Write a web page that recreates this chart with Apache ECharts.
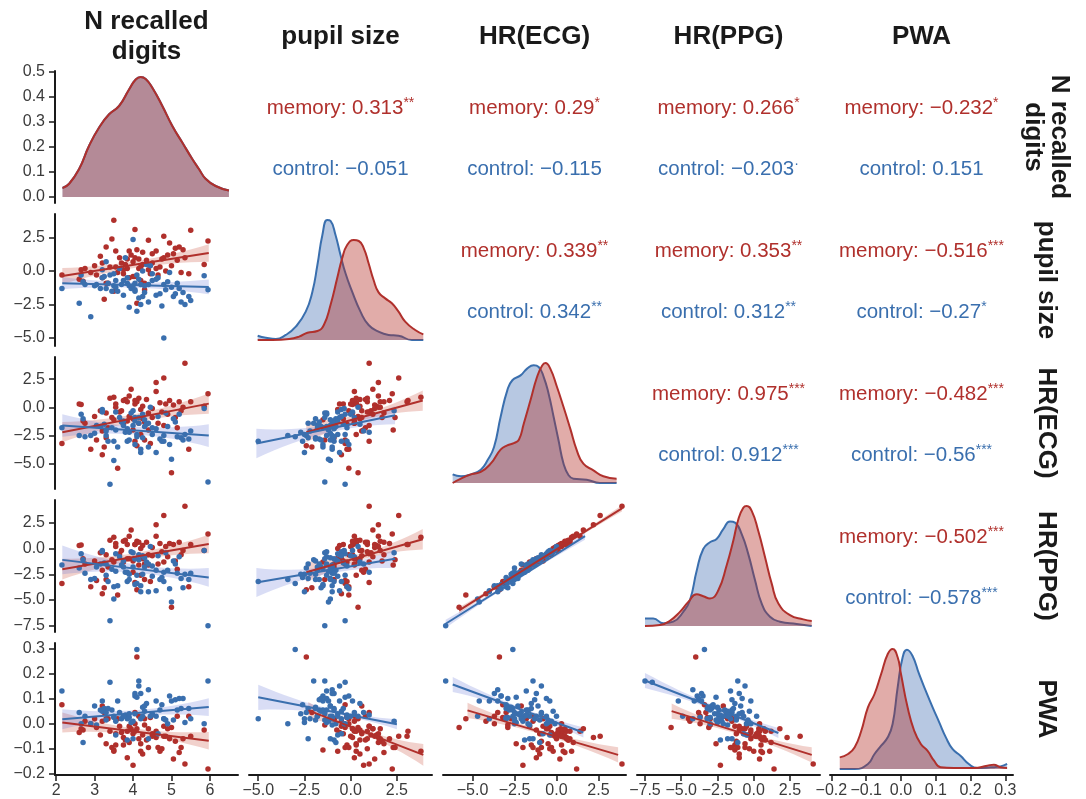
<!DOCTYPE html>
<html><head><meta charset="utf-8">
<script src="https://cdn.jsdelivr.net/npm/echarts@6/dist/echarts.min.js"></script>
<style>html,body{margin:0;padding:0;background:#fff}#c{width:1086px;height:799px}</style>
</head><body><div id="c"></div><script>
// ---------------- DATA ----------------
const varNames = ['N recalled\ndigits', 'pupil size', 'HR(ECG)', 'HR(PPG)', 'PWA'];

// per-subject values (same subjects in both conditions; N recalled digits shared)
const digits   = [2.15,2.6,2.65,2.7,2.75,2.9,3.0,3.05,3.15,3.2,3.2,3.25,3.3,3.35,3.4,3.45,3.5,3.5,3.55,3.6,3.65,3.7,3.75,3.8,3.85,3.85,3.9,3.95,4.0,4.0,4.05,4.05,4.1,4.1,4.15,4.15,4.2,4.2,4.25,4.25,4.3,4.35,4.4,4.4,4.45,4.5,4.6,4.65,4.7,4.8,4.8,4.85,4.9,4.95,5.0,5.05,5.1,5.15,5.2,5.25,5.3,5.35,5.45,5.5,5.85,5.95,3.55,4.3,4.5,3.9,4.6,4.05,3.3,4.75,3.75];
const memPupil = [-0.3,-0.6,0.1,-0.75,0.2,-0.1,0.4,-0.3,1.1,0.6,-0.5,-2.1,1.8,-0.9,0.3,2.4,3.8,-1.5,0.3,-0.1,1.0,0.6,-0.2,0.5,0.2,0.9,-0.5,1.2,0.7,-0.4,3.1,1.0,-2.4,1.6,0.2,0.9,0.3,-0.7,0.5,1.4,-1.4,0.8,2.3,0.1,-0.2,0.6,1.5,-0.3,0.3,2.6,1.0,0.0,1.2,2.1,0.4,1.3,1.7,0.8,1.8,-0.1,1.6,1.0,-0.2,3.05,0.5,2.25,1.5,-0.9,1.3,1.5,0.2,-0.4,-0.9,0.9,0.1];
const memEcg   = [-3.2,0.3,0.25,-1.2,-1.4,-3.7,-0.8,-2.9,-0.3,-2.1,-4.2,-3.5,-0.5,-1.8,0.8,-0.9,0.9,-1.1,0.3,-5.4,-0.4,-0.3,-1.5,0.7,-1.2,0.5,-0.8,1.6,-2.0,-1.0,0.6,-3.0,-3.4,0.5,-1.4,0.8,-2.4,-0.2,-1.0,0.1,-2.9,0.7,-2.0,-0.5,-3.2,-0.9,2.2,-1.4,0.4,2.6,-1.6,0.3,-0.6,0.6,-5.8,0.2,-0.9,-1.8,0.5,-0.3,0.0,3.9,-3.7,0.5,0.1,1.2,0.0,-1.3,-0.1,1.0,1.4,0.3,-2.7,-0.4,0.6];
const memPpg   = [-3.4,0.3,0.35,-1.0,-1.5,-3.7,-1.2,-3.1,-0.4,-2.1,-4.4,-3.8,-0.6,-1.8,0.8,-1.1,1.1,-1.3,0.5,-4.5,-0.5,-0.2,-1.3,0.8,-1.0,0.4,-1.0,1.8,-2.3,-1.2,0.4,-3.3,-4.0,0.7,-1.6,0.6,-2.6,0.0,-1.0,0.3,-3.0,0.6,-1.6,-0.6,-3.2,-0.7,2.3,-1.5,0.5,3.2,-1.3,0.2,-0.8,0.5,-5.7,0.4,-1.2,-2.0,0.6,-0.6,-0.2,4.1,-3.7,0.4,-0.2,1.4,0.2,-1.5,0.1,1.2,1.2,0.4,-3.0,-0.3,0.7];
const memPwa   = [0.075,-0.035,-0.02,-0.025,0.01,0.0,0.02,-0.015,-0.045,0.07,0.01,0.045,-0.08,0.02,-0.03,-0.095,-0.11,-0.105,-0.085,0.02,-0.01,-0.035,-0.085,-0.065,-0.135,-0.03,-0.01,-0.02,-0.165,-0.04,-0.03,0.045,0.265,-0.02,0.03,-0.06,-0.08,-0.11,-0.12,-0.045,-0.005,-0.065,-0.095,-0.02,0.025,-0.04,-0.055,-0.095,-0.11,-0.05,-0.01,-0.05,-0.02,-0.06,-0.015,-0.14,-0.07,0.03,-0.115,-0.095,-0.06,-0.16,0.03,-0.05,-0.025,-0.18,-0.04,0.02,-0.05,-0.075,-0.03,0.0,0.02,-0.1,-0.055];
const ctlPupil = [-1.3,-2.4,-0.3,-0.8,-1.0,-3.4,-1.1,-1.0,-1.3,0.1,-0.5,-0.4,0.7,-0.9,-0.3,-1.5,-0.2,-1.1,-0.7,-1.5,0.2,-1.0,-1.8,1.0,-0.9,-0.5,-1.1,-1.3,2.35,-1.1,-1.5,-0.9,-3.0,-0.3,-0.6,-2.0,-1.0,-2.5,-1.9,0.0,-1.6,0.5,-1.0,-2.3,0.4,-0.7,-1.8,-0.5,-1.7,-5.0,-1.0,-1.4,-0.8,-0.1,-1.2,-1.9,-1.7,-0.9,-1.3,-2.3,-1.6,-2.5,-1.9,-2.2,-0.35,-1.4,-1.2,-1.1,-0.2,-2.7,-0.6,-1.4,-1.3,-2.6,-0.7];
const ctlEcg   = [-1.8,-2.5,-0.6,-1.0,-2.6,-2.5,-2.3,-1.6,-1.7,-0.4,-0.2,-1.5,-2.1,-3.0,-6.8,-1.8,-3.0,-4.7,-0.4,-3.5,-0.9,-1.3,-1.6,-2.2,-1.9,-3.0,-2.9,-0.5,-0.3,-1.6,-3.3,-1.2,-2.6,-2.4,-0.9,-1.4,-3.7,-4.0,-2.7,-0.6,-1.7,-1.5,-3.5,-1.4,0.0,-2.4,-1.9,-0.8,-2.8,-3.0,-2.5,-0.5,-1.7,-3.3,-4.6,-1.0,-1.3,-2.6,-0.6,-2.7,-2.9,-2.4,-2.8,-2.1,-0.1,-6.6,-2.0,-1.1,-1.8,-2.2,-4.0,-0.9,-2.5,-3.0,-1.2];
const ctlPpg   = [-1.6,-1.9,-0.5,-1.1,-2.4,-3.0,-2.9,-1.8,-1.5,-0.2,-0.3,-1.4,-1.5,-3.2,-7.0,-2.0,-3.7,-4.9,-0.5,-3.6,-0.8,-1.6,-1.8,-2.3,-2.3,-3.2,-3.0,-0.3,-0.4,-1.8,-3.5,-1.0,-3.4,-2.6,-0.6,-1.1,-3.6,-4.2,-2.5,-0.7,-1.8,-1.3,-4.2,-1.5,0.2,-2.7,-2.1,-0.7,-3.0,-3.2,-2.3,-0.4,-2.1,-3.9,-5.2,-1.2,-1.5,-2.4,-0.8,-2.9,-3.8,-2.5,-3.0,-2.4,-0.2,-7.5,-2.2,-0.9,-1.7,-2.5,-4.1,-1.0,-2.6,-2.8,-1.2];
const ctlPwa   = [0.13,0.045,0.0,-0.075,0.03,0.0,0.07,-0.005,0.055,0.09,0.05,0.06,0.045,0.06,0.165,0.055,0.025,0.03,-0.045,0.09,0.045,0.02,0.03,0.035,-0.065,0.02,0.025,0.005,0.01,-0.06,0.11,0.12,0.295,0.105,0.15,0.17,0.12,0.02,0.065,0.03,0.05,0.08,0.135,-0.06,0.03,0.04,0.03,-0.04,0.055,0.02,0.02,0.015,0.0,0.11,0.09,0.015,0.095,0.055,0.1,0.06,0.1,0.005,0.06,0.02,0.0,0.17,0.01,0.07,0.035,0.04,0.09,0.04,0.015,0.075,0.03];

// KDE curves on the diagonal: [value, density]; digits in real density, others relative to the panel peak
const kdeDigits  = [[2.165,0.036],[2.338,0.053],[2.597,0.112],[2.857,0.205],[3.117,0.278],[3.377,0.331],[3.636,0.364],[3.896,0.430],[4.069,0.470],[4.199,0.480],[4.329,0.472],[4.502,0.437],[4.762,0.364],[5.022,0.284],[5.281,0.218],[5.541,0.152],[5.714,0.112],[5.887,0.073],[6.147,0.044],[6.494,0.026]];
const kdePupilCtl= [[-5.03,0.036],[-4.59,0.019],[-4.05,0.008],[-3.51,0.042],[-2.97,0.111],[-2.43,0.236],[-2.07,0.403],[-1.80,0.625],[-1.53,0.875],[-1.27,1.0],[-1.09,0.992],[-0.82,0.875],[-0.55,0.708],[-0.28,0.556],[0.08,0.403],[0.53,0.236],[0.97,0.125],[1.51,0.069],[2.05,0.042],[2.59,0.036],[3.31,0.0],[3.93,0.0]];
const kdePupilMem= [[-5.03,0.0],[-4.23,0.0],[-3.33,0.008],[-2.79,0.028],[-2.34,0.061],[-1.80,0.075],[-1.45,0.125],[-1.09,0.292],[-0.73,0.514],[-0.46,0.681],[-0.19,0.792],[0.17,0.833],[0.44,0.825],[0.71,0.764],[0.97,0.639],[1.24,0.5],[1.51,0.397],[1.87,0.347],[2.23,0.306],[2.59,0.236],[2.95,0.153],[3.49,0.083],[3.93,0.047]];
const kdeEcgCtl  = [[-6.185,0.072],[-5.69,0.056],[-5.10,0.072],[-4.51,0.111],[-4.11,0.189],[-3.72,0.3],[-3.33,0.55],[-2.93,0.772],[-2.63,0.856],[-2.14,0.897],[-1.75,0.953],[-1.36,0.981],[-1.06,0.967],[-0.76,0.883],[-0.47,0.744],[-0.17,0.55],[0.12,0.356],[0.42,0.161],[0.72,0.064],[1.01,0.036],[1.80,0.028],[2.59,0.0],[3.58,0.0]];
const kdeEcgMem  = [[-6.185,0.0],[-5.69,0.036],[-5.10,0.072],[-4.51,0.092],[-3.92,0.161],[-3.33,0.278],[-2.93,0.314],[-2.54,0.333],[-2.24,0.361],[-1.95,0.494],[-1.55,0.689],[-1.16,0.883],[-0.86,0.978],[-0.66,1.0],[-0.37,0.953],[0.03,0.8],[0.42,0.633],[0.82,0.453],[1.21,0.272],[1.60,0.161],[2.20,0.106],[2.79,0.056],[3.58,0.036]];
const kdePpgCtl  = [[-7.5,0.063],[-6.93,0.063],[-6.24,0.022],[-5.55,0.036],[-4.86,0.118],[-4.40,0.215],[-3.93,0.463],[-3.48,0.642],[-3.02,0.698],[-2.56,0.725],[-2.10,0.807],[-1.64,0.871],[-1.29,0.862],[-0.83,0.766],[-0.38,0.601],[0.09,0.381],[0.55,0.187],[1.12,0.077],[1.81,0.036],[2.96,0.017],[4.0,0.0]];
const kdePpgMem  = [[-7.5,0.0],[-6.47,0.008],[-5.78,0.044],[-5.09,0.118],[-4.51,0.201],[-3.93,0.264],[-3.48,0.248],[-3.02,0.229],[-2.44,0.298],[-1.87,0.504],[-1.41,0.711],[-1.06,0.890],[-0.72,0.986],[-0.49,1.0],[-0.14,0.959],[0.31,0.793],[0.78,0.573],[1.24,0.353],[1.70,0.187],[2.50,0.091],[3.42,0.055],[4.0,0.041]];
const kdePwaCtl  = [[-0.176,0.0],[-0.133,0.0],[-0.095,0.042],[-0.076,0.125],[-0.057,0.194],[-0.038,0.264],[-0.024,0.375],[-0.0095,0.681],[0.0048,0.931],[0.017,0.994],[0.033,0.944],[0.052,0.792],[0.071,0.653],[0.091,0.514],[0.110,0.389],[0.129,0.264],[0.148,0.167],[0.171,0.111],[0.195,0.042],[0.219,0.008],[0.257,0.014],[0.286,0.022],[0.305,0.042]];
const kdePwaMem  = [[-0.176,0.097],[-0.152,0.125],[-0.133,0.181],[-0.114,0.319],[-0.095,0.514],[-0.076,0.625],[-0.057,0.792],[-0.038,0.958],[-0.024,1.0],[-0.0095,0.931],[0.0,0.792],[0.019,0.514],[0.038,0.319],[0.057,0.208],[0.076,0.153],[0.095,0.069],[0.114,0.014],[0.152,0.008],[0.21,0.008],[0.248,0.028],[0.267,0.036],[0.286,0.014],[0.305,0.008]];

// lower panels [row, col] and regression fits: [x0, y0, x1, y1, ci half-width at x0, mid, x1]
const lowerPanels = [[1,0],[2,0],[2,1],[3,0],[3,1],[3,2],[4,0],[4,1],[4,2],[4,3]];
const memFits = [
  [2.16,-0.37,5.97,1.35,0.6,0.25,0.65],
  [2.16,-2.2,5.97,0.33,0.9,0.35,0.9],
  [-2.4,-2.2,3.9,0.6,0.9,0.3,0.9],
  [2.16,-2.0,5.97,0.44,1.0,0.35,0.9],
  [-2.4,-2.3,3.9,0.9,1.0,0.3,1.0],
  [-5.8,-6.0,3.9,3.9,0.3,0.1,0.3],
  [2.16,0.005,5.97,-0.068,0.04,0.012,0.035],
  [-2.29,0.053,3.93,-0.124,0.033,0.01,0.043],
  [-5.3,0.053,3.67,-0.124,0.03,0.008,0.03],
  [-5.66,0.05,4.0,-0.124,0.03,0.008,0.03]
];
const ctlFits = [
  [2.16,-0.9,5.97,-1.18,0.45,0.2,0.55],
  [2.16,-1.6,5.97,-2.5,1.0,0.35,1.0],
  [-5.1,-3.2,2.4,-0.7,1.3,0.35,0.8],
  [2.16,-1.1,5.97,-2.8,1.4,0.4,0.9],
  [-5.1,-3.3,2.4,-1.0,1.4,0.35,0.9],
  [-6.6,-7.3,1.7,1.2,0.4,0.12,0.35],
  [2.16,0.018,5.97,0.066,0.04,0.012,0.035],
  [-5.0,0.105,2.5,-0.002,0.05,0.01,0.02],
  [-6.18,0.156,1.6,-0.035,0.03,0.008,0.02],
  [-7.5,0.172,1.7,-0.037,0.03,0.008,0.02]
];

// upper panels: correlation annotations
const upperPanels = [[0,1],[0,2],[0,3],[0,4],[1,2],[1,3],[1,4],[2,3],[2,4],[3,4]];
const memR     = ['0.313','0.29','0.266','\u22120.232','0.339','0.353','\u22120.516','0.975','\u22120.482','\u22120.502'];
const memStars = ['**','*','*','*','**','**','***','***','***','***'];
const ctlR     = ['\u22120.051','\u22120.115','\u22120.203','0.151','0.342','0.312','\u22120.27','0.912','\u22120.56','\u22120.578'];
const ctlStars = ['','','\u00b7','','**','**','*','***','***','***'];

// axis ranges and ticks
const colMin = [1.97,-5.5,-6.76,-8.05,-0.204], colMax = [6.73,4.4,4.14,4.57,0.322];
const rowMin = [-0.024,-5.59,-7.23,-8.1,-0.204], rowMax = [0.504,4.26,4.46,4.71,0.321];
const xTicks = [[2,3,4,5,6],[-5,-2.5,0,2.5],[-5,-2.5,0,2.5],[-7.5,-5,-2.5,0,2.5],[-0.2,-0.1,0,0.1,0.2,0.3]];
const xTickLabels = [['2','3','4','5','6'],['\u22125.0','\u22122.5','0.0','2.5'],['\u22125.0','\u22122.5','0.0','2.5'],['\u22127.5','\u22125.0','\u22122.5','0.0','2.5'],['\u22120.2','\u22120.1','0.0','0.1','0.2','0.3']];
const yTicks = [[0,0.1,0.2,0.3,0.4,0.5],[-5,-2.5,0,2.5],[-5,-2.5,0,2.5],[-7.5,-5,-2.5,0,2.5],[-0.2,-0.1,0,0.1,0.2,0.3]];
const yTickLabels = [['0.0','0.1','0.2','0.3','0.4','0.5'],['\u22125.0','\u22122.5','0.0','2.5'],['\u22125.0','\u22122.5','0.0','2.5'],['\u22127.5','\u22125.0','\u22122.5','0.0','2.5'],['\u22120.2','\u22120.1','0.0','0.1','0.2','0.3']];

// ---------------- STYLE / LAYOUT ----------------
const FONT = 'Liberation Sans, Arial, Helvetica, sans-serif';
const RED = '#b0302c', BLUE = '#3a6fae';
const RED_FILL = 'rgba(176,40,30,0.55)', BLUE_FILL = 'rgba(58,105,175,0.52)';
const RED_BAND = 'rgba(205,85,65,0.27)', BLUE_BAND = 'rgba(105,120,215,0.25)';
const LEFTS = [55,249,443,637,830], W = 183;
const TOPS = [71,214,357,500,643], H = 132;

const memVars = [digits, memPupil, memEcg, memPpg, memPwa];
const ctlVars = [digits, ctlPupil, ctlEcg, ctlPpg, ctlPwa];
const kdeMem = [kdeDigits, kdePupilMem, kdeEcgMem, kdePpgMem, kdePwaMem];
const kdeCtl = [kdeDigits, kdePupilCtl, kdeEcgCtl, kdePpgCtl, kdePwaCtl];

const grids = [], xAxes = [], yAxes = [], series = [];
const gIndex = {};
function lbl(ticks, labels, v){ const i = ticks.findIndex(t => Math.abs(t - v) < 1e-9); return i >= 0 ? labels[i] : ''; }
function axisCommon(show, ticks, labels, margin){
  return {
    show, type: 'value', splitLine: {show: false},
    axisLine: {show: true, onZero: false, lineStyle: {color: '#1a1a1a', width: 2}},
    axisTick: {show: true, length: 6, customValues: ticks, lineStyle: {color: '#1a1a1a', width: 1.5}},
    axisLabel: {customValues: ticks, formatter: v => lbl(ticks, labels, v), fontSize: 16, color: '#3a3a3a', fontFamily: FONT, margin}
  };
}
for (let r = 0; r < 5; r++) for (let c = 0; c <= r; c++) {
  const gi = grids.length; gIndex[r + '_' + c] = gi;
  grids.push({left: LEFTS[c], top: TOPS[r], width: W, height: H});
  xAxes.push(Object.assign(axisCommon(r === 4, xTicks[c], xTickLabels[c], 8), {gridIndex: gi, min: colMin[c], max: colMax[c]}));
  const diag = r === c;
  const ymin = diag && r > 0 ? -0.05 : rowMin[r], ymax = diag && r > 0 ? 1.05 : rowMax[r];
  yAxes.push(Object.assign(axisCommon(c === 0, yTicks[r], yTickLabels[r], 10), {gridIndex: gi, min: ymin, max: ymax}));
}

// diagonal KDEs
for (let c = 0; c < 5; c++) {
  const gi = gIndex[c + '_' + c];
  [[kdeCtl[c], BLUE, BLUE_FILL], [kdeMem[c], RED, RED_FILL]].forEach(([data, col, fill], k) => {
    series.push({type: 'line', xAxisIndex: gi, yAxisIndex: gi, data, smooth: 0.5,
      showSymbol: false, silent: true, z: 2 + k,
      lineStyle: {color: col, width: 2}, areaStyle: {color: fill, origin: 0}});
  });
}

// bands via custom series
function bandSeries(gi, f, fill){
  return {type: 'custom', xAxisIndex: gi, yAxisIndex: gi, data: [0], silent: true, z: 1, clip: false,
    renderItem: (p, api) => {
      const [x0,y0,x1,y1,w0,wm,w1] = f, xm = (x0 + x1) / 2, ym = (y0 + y1) / 2;
      const P = (x, y) => api.coord([x, y]);
      const quad = (a, m, b) => { // quadratic bezier through a, m, b
        const cx = 2*m[0] - (a[0]+b[0])/2, cy = 2*m[1] - (a[1]+b[1])/2, pts = [];
        for (let i = 0; i <= 16; i++) { const t = i/16, u = 1 - t;
          pts.push([u*u*a[0] + 2*u*t*cx + t*t*b[0], u*u*a[1] + 2*u*t*cy + t*t*b[1]]); }
        return pts;
      };
      const up = quad(P(x0, y0 + w0), P(xm, ym + wm), P(x1, y1 + w1));
      const lo = quad(P(x1, y1 - w1), P(xm, ym - wm), P(x0, y0 - w0));
      return {type: 'polygon', shape: {points: up.concat(lo)}, style: {fill}};
    }};
}

lowerPanels.forEach(([r, c], k) => {
  const gi = gIndex[r + '_' + c];
  series.push(bandSeries(gi, memFits[k], RED_BAND));
  series.push(bandSeries(gi, ctlFits[k], BLUE_BAND));
  const memPts = digits.map((_, i) => [memVars[c][i], memVars[r][i]]);
  const ctlPts = digits.map((_, i) => [ctlVars[c][i], ctlVars[r][i]]);
  series.push({type: 'scatter', xAxisIndex: gi, yAxisIndex: gi, data: memPts, symbolSize: 5.5, silent: true, z: 3,
    itemStyle: {color: RED, opacity: 1}});
  series.push({type: 'scatter', xAxisIndex: gi, yAxisIndex: gi, data: ctlPts, symbolSize: 5.5, silent: true, z: 3,
    itemStyle: {color: BLUE, opacity: 1}});
  [[memFits[k], RED], [ctlFits[k], BLUE]].forEach(([f, col]) => {
    series.push({type: 'line', xAxisIndex: gi, yAxisIndex: gi, data: [[f[0], f[1]], [f[2], f[3]]],
      showSymbol: false, silent: true, z: 4, lineStyle: {color: col, width: 2}});
  });
});

// texts
const graphics = [];
for (let c = 0; c < 5; c++) {
  graphics.push({type: 'text', x: LEFTS[c] + W / 2, y: 37, silent: true,
    style: {text: varNames[c], fill: '#1a1a1a', font: 'bold 26px ' + FONT, align: 'center', verticalAlign: 'middle', lineHeight: 30}});
}
for (let r = 0; r < 5; r++) {
  graphics.push({type: 'text', x: 1046, y: TOPS[r] + H / 2, rotation: -Math.PI / 2, silent: true,
    style: {text: varNames[r], fill: '#1a1a1a', font: 'bold 26px ' + FONT, align: 'center', verticalAlign: 'middle', lineHeight: 26}});
}
upperPanels.forEach(([r, c], k) => {
  const cx = LEFTS[c] + W / 2;
  [['memory: ' + memR[k], memStars[k], RED, TOPS[r] + 37], ['control: ' + ctlR[k], ctlStars[k], BLUE, TOPS[r] + 98]].forEach(([t, s, col, y]) => {
    graphics.push({type: 'text', x: cx, y, silent: true,
      style: {text: '{m|' + t + '}' + (s ? '{s|' + s + '}' : ''), align: 'center', verticalAlign: 'middle',
        rich: {m: {fill: col, fontSize: 20.5, fontFamily: FONT, lineHeight: 24},
               s: {fill: col, fontSize: 14, fontFamily: FONT, verticalAlign: 'top', lineHeight: 14}}}});
  });
});

const chart = echarts.init(document.getElementById('c'), null, {renderer: 'canvas'});
chart.setOption({animation: false, backgroundColor: '#ffffff', grid: grids, xAxis: xAxes, yAxis: yAxes, series, graphic: graphics});
</script></body></html>
